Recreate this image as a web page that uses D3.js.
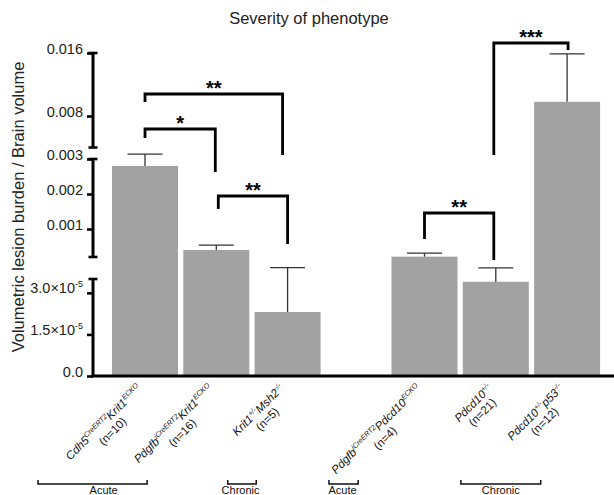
<!DOCTYPE html>
<html>
<head>
<meta charset="utf-8">
<script src="https://cdn.jsdelivr.net/npm/d3@7"></script>
<style>
  body { margin: 0; background: #fff; }
  svg { display: block; font-family: Arial, "Liberation Sans", sans-serif; }
</style>
</head>
<body>
<svg id="chart" width="614" height="495"></svg>
<script>
// ---- data ----
const genotypes = [
  "Cdh5^{CreERT2}Krit1^{ECKO}",
  "Pdgfb^{iCreERT2}Krit1^{ECKO}",
  "Krit1^{+/-}Msh2^{-/-}",
  "Pdgfb^{iCreERT2}Pdcd10^{ECKO}",
  "Pdcd10^{+/-}",
  "Pdcd10^{+/-}p53^{-/-}"
];
const counts = ["(n=10)", "(n=16)", "(n=5)", "(n=4)", "(n=21)", "(n=12)"];
const means = [0.0028, 0.0004, 2.31e-5, 0.00021, 3.4e-5, 0.0098];
const sems = [0.00034, 0.00014, 1.6e-5, 0.0001, 0.5e-5, 0.0061];
// bar slot along the x axis (second group set further right)
const slots = [0, 1, 2, 3.92, 4.92, 5.92];

// broken y axis: three segments, bottom to top
const segDomains = [[0, 3.5e-5], [0.0002, 0.003], [0.004, 0.016]];
const segTicks = [[0, 1.5e-5, 3e-5], [0.001, 0.002, 0.003], [0.008, 0.016]];
const segTickLabels = [
  ["0.0", "1.5\u00d710^{-5}", "3.0\u00d710^{-5}"],
  ["0.001", "0.002", "0.003"],
  ["0.008", "0.016"]
];

// significance comparisons (bar index pairs)
const sigPairs = [[0, 2], [0, 1], [1, 2], [3, 4], [4, 5]];
const sigLabels = ["**", "*", "**", "**", "***"];

// phase groups under the labels, in slot units
const phaseLabels = ["Acute", "Chronic", "Acute", "Chronic"];
const phaseSpans = [[-1.5, 0.03], [1.16, 1.56], [2.58, 2.99], [4.43, 5.55]];
const phaseTextAt = [-0.58, 1.34, 2.77, 4.99];

// ---- layout ----
const left = 93, base = 376, barW = 66;
const segPx = [[376, 279], [257, 159], [147.5, 53]];
// bracket heights and leg ends (px) plus small x nudges
const sigLayout = [
  { y: 94, la: 102, lb: 155, da: 0, db: -5 },
  { y: 129, la: 138, lb: 172, da: 0, db: -1 },
  { y: 196, la: 209, lb: 244, da: 2, db: 0 },
  { y: 213, la: 239, lb: 260, da: 0, db: -2 },
  { y: 43, la: 155, lb: 50, da: -2, db: 1 }
];

const svg = d3.select("#chart");

const x = d3.scaleLinear().domain([0, 1]).range([145, 216.3]);
const segScales = segDomains.map((d, i) => d3.scaleLinear().domain(d).range(segPx[i]));
const y = v => {
  let s = segScales[0];
  segScales.forEach((sc, i) => { if (v >= segDomains[i][0]) s = sc; });
  return s(v);
};

// text with ^{superscript} parts
function rich(text, str, supSize, shift) {
  let cur = 0;
  str.split(/\^\{([^}]*)\}/).forEach((p, i) => {
    if (!p) return;
    const target = i % 2 ? -shift : 0;
    const t = text.append("tspan").attr("dy", target - cur).text(p);
    if (i % 2) t.attr("font-size", supSize);
    cur = target;
  });
}

// title
svg.append("text")
  .attr("x", 309).attr("y", 24)
  .attr("text-anchor", "middle")
  .attr("font-size", 16.5)
  .attr("fill", "#222")
  .text("Severity of phenotype");

// y title
svg.append("text")
  .attr("transform", "translate(24,207) rotate(-90)")
  .attr("text-anchor", "middle")
  .attr("font-size", 16.5)
  .attr("fill", "#222")
  .text("Volumetric lesion burden / Brain volume");

// bars
svg.append("g")
  .selectAll("rect")
  .data(means)
  .join("rect")
  .attr("x", (d, i) => x(slots[i]) - barW / 2)
  .attr("width", barW)
  .attr("y", d => y(d))
  .attr("height", d => base - y(d))
  .attr("fill", "#a2a2a2");

// error bars (upper only)
const err = svg.append("g")
  .attr("stroke", "#333")
  .attr("stroke-width", 1.3);
means.forEach((m, i) => {
  const cx = x(slots[i]), top = y(m + sems[i]);
  err.append("line").attr("x1", cx).attr("x2", cx).attr("y1", y(m)).attr("y2", top);
  err.append("line").attr("x1", cx - 17.5).attr("x2", cx + 17.5).attr("y1", top).attr("y2", top);
});

// y axis segments
segScales.forEach((sc, i) => {
  const g = svg.append("g")
    .attr("transform", `translate(${left},0)`)
    .call(d3.axisLeft(sc)
      .tickValues(segTicks[i])
      .tickSize(6)
      .tickSizeOuter(0)
      .tickPadding(4)
      .tickFormat(() => ""));
  g.select(".domain").remove();
  g.selectAll(".tick line").attr("stroke", "#000").attr("stroke-width", 2.6);
  g.selectAll(".tick text").each(function (d, j) {
    const t = d3.select(this).text(null)
      .attr("font-size", 14.5)
      .attr("fill", "#222");
    rich(t, segTickLabels[i][j], 9, 6);
  });
  const [r0, r1] = segPx[i];
  g.append("line")
    .attr("x1", 0).attr("x2", 0)
    .attr("y1", r0).attr("y2", r1)
    .attr("stroke", "#000").attr("stroke-width", 3);
  [r0, r1].forEach((r, k) => {
    if (i === 0 && k === 0) return;
    g.append("line")
      .attr("x1", -4.5).attr("x2", 4.5)
      .attr("y1", r).attr("y2", r)
      .attr("stroke", "#000").attr("stroke-width", 2.6);
  });
});

// x axis line
svg.append("line")
  .attr("x1", left - 1.5).attr("x2", 614)
  .attr("y1", base).attr("y2", base)
  .attr("stroke", "#000").attr("stroke-width", 3);

// category labels, rotated
genotypes.forEach((gname, i) => {
  const g = svg.append("g")
    .attr("transform", `translate(${x(slots[i]) - 3},389) rotate(-45)`)
    .attr("fill", "#111");
  const t1 = g.append("text")
    .attr("text-anchor", "end")
    .attr("font-size", 11.5)
    .attr("font-style", "italic");
  rich(t1, gname, 7.2, 4.5);
  const L = t1.node().getComputedTextLength();
  g.append("text")
    .attr("x", -L / 2).attr("y", 13)
    .attr("text-anchor", "middle")
    .attr("font-size", 11.5)
    .text(counts[i]);
});

// significance brackets
sigPairs.forEach(([a, b], i) => {
  const s = sigLayout[i];
  const xa = x(slots[a]) + s.da, xb = x(slots[b]) + s.db;
  svg.append("path")
    .attr("d", `M${xa},${s.la}V${s.y}H${xb}V${s.lb}`)
    .attr("fill", "none")
    .attr("stroke", "#000")
    .attr("stroke-width", 2.8);
  svg.append("text")
    .attr("x", (xa + xb) / 2).attr("y", s.y + 1)
    .attr("text-anchor", "middle")
    .attr("font-size", 20)
    .attr("font-weight", "bold")
    .text(sigLabels[i]);
});

// phase brackets along the bottom
phaseSpans.forEach(([a, b], i) => {
  const x0 = x(a), x1 = x(b);
  svg.append("path")
    .attr("d", `M${x0},480V484H${x1}V480`)
    .attr("fill", "none")
    .attr("stroke", "#111")
    .attr("stroke-width", 1.5);
  svg.append("text")
    .attr("x", x(phaseTextAt[i])).attr("y", 494)
    .attr("text-anchor", "middle")
    .attr("font-size", 11)
    .attr("fill", "#111")
    .text(phaseLabels[i]);
});
</script>
</body>
</html>
